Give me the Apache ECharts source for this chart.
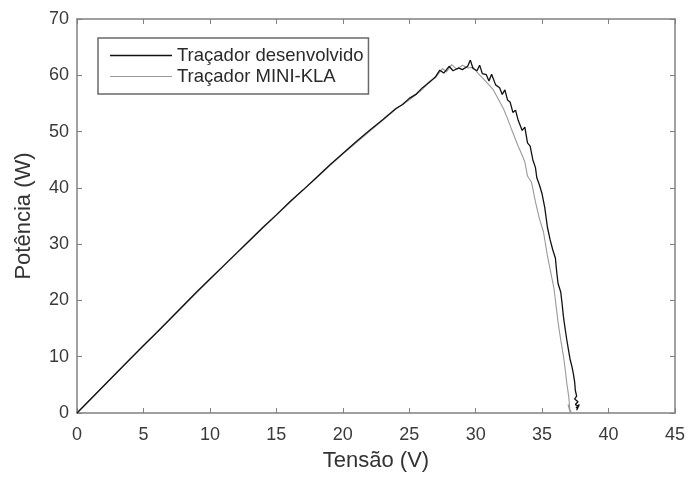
<!DOCTYPE html>
<html><head><meta charset="utf-8">
<script src="https://cdn.jsdelivr.net/npm/echarts@6/dist/echarts.min.js"></script>
<style>html,body{margin:0;padding:0;background:#fff}#c{width:689px;height:479px}</style>
</head><body><div id="c"></div>
<script>
const xTicks = [0,5,10,15,20,25,30,35,40,45];
const yTicks = [0,10,20,30,40,50,60,70];
const seriesNames = ['Traçador desenvolvido','Traçador MINI-KLA'];
const blackV = [0,1,2,3,4,5,6,7,8,9,10,11,12,13,14,15,16,17,18,19,20,21,22,23,24,24.5,25,25.5,26,26.5,27,27.3,27.6,28,28.3,28.7,29,29.4,29.6,29.8,30.1,30.3,30.5,30.8,31.0,31.2,31.5,31.8,32.0,32.2,32.4,32.6,32.8,33.0,33.2,33.5,33.7,33.9,34.1,34.3,34.5,34.6,34.8,35.0,35.2,35.4,35.6,35.8,36.0,36.1,36.2,36.4,36.5,36.6,36.7,36.85,37.0,37.1,37.25,37.35,37.45,37.5,37.6,37.45,37.7,37.5,37.75,37.55,37.8,37.6];
const blackP = [0,2.4,4.8,7.2,9.6,12.0,14.3,16.7,19.1,21.5,23.8,26.1,28.4,30.7,33.0,35.2,37.5,39.6,41.8,44.0,46.1,48.2,50.2,52.1,54.1,54.8,55.9,56.6,57.8,58.7,59.8,60.9,60.4,61.6,60.8,61.3,61.0,61.6,62.7,61.2,60.8,61.8,60.3,60.1,59.0,60.2,58.3,57.8,56.6,57.4,55.6,55.2,53.4,53.8,52.0,50.2,50.8,48.0,47.4,45.0,43.6,41.8,40.5,38.9,36.5,33.0,30.8,29.0,27.5,25.0,23.0,21.5,19.5,17.2,15.5,13.1,11.0,9.6,8.2,7.0,5.5,4.0,3.0,2.5,2.0,1.5,1.2,0.9,1.5,0.5];
const grayV = [0,1,2,3,4,5,6,7,8,9,10,11,12,13,14,15,16,17,18,19,20,21,22,23,24,25,26,26.5,27,27.5,27.8,28.2,28.6,29.0,29.4,29.8,30.2,30.6,31.0,31.3,31.7,32.1,32.4,32.7,33.0,33.2,33.5,33.7,33.9,34.2,34.5,34.8,35.1,35.4,35.7,35.9,36.2,36.4,36.6,36.75,36.85,37.0,37.1,36.95,37.2];
const grayP = [0,2.4,4.8,7.2,9.6,11.9,14.3,16.6,19.0,21.4,23.7,26.0,28.3,30.6,32.9,35.1,37.4,39.6,41.7,43.9,46.0,48.0,50.0,52.0,54.0,55.6,57.5,58.9,59.6,61.2,60.6,61.9,61.0,61.8,61.3,61.4,60.3,59.3,58.3,57.5,55.8,54.0,52.3,50.4,48.6,47.4,45.8,44.6,42.1,41.0,37.5,34.5,32.2,27.9,24.4,22.0,16.1,13.0,10.2,7.5,5.4,3.0,0.2,1.5,0.0];

const pair = (a,b)=>a.map((v,i)=>[v,b[i]]);
const axisCol = '#808080';
const txtCol = '#3a3a3a';
const font = 'Liberation Sans';
const chart = echarts.init(document.getElementById('c'), null, {renderer:'canvas'});
const baseX = {type:'value', min:0, max:45, interval:5,
  axisLine:{show:true, onZero:false, lineStyle:{color:axisCol, width:1.5}},
  axisTick:{show:true, inside:true, length:5, lineStyle:{color:axisCol}},
  splitLine:{show:false}};
const baseY = {type:'value', min:0, max:70, interval:10,
  axisLine:{show:true, onZero:false, lineStyle:{color:axisCol, width:1.5}},
  axisTick:{show:true, inside:true, length:5, lineStyle:{color:axisCol}},
  splitLine:{show:false}};
chart.setOption({
  animation:false,
  backgroundColor:'#fff',
  grid:{left:77, right:14, top:19, bottom:66, containLabel:false},
  legend:{
    left:98, top:38, orient:'vertical', itemGap:2, itemWidth:62, itemHeight:14,
    padding:[8,5,8,12], borderColor:'#6a6a6a', borderWidth:1.5,
    textStyle:{fontFamily:font, fontSize:18.5, lineHeight:18, color:'#2a2a2a'},
    data:[
      {name:seriesNames[0], icon:'path://M0,0L62,0L62,1.4L0,1.4Z'},
      {name:seriesNames[1], icon:'path://M0,0L62,0L62,1.1L0,1.1Z'}
    ]
  },
  xAxis:[
    Object.assign({}, baseX, {position:'bottom',
      axisLabel:{show:true, color:txtCol, fontFamily:font, fontSize:18, margin:13},
      name:'Tensão (V)', nameLocation:'middle', nameGap:37,
      nameTextStyle:{fontFamily:font, fontSize:22, color:'#333'}}),
    Object.assign({}, baseX, {position:'top', axisLabel:{show:false}})
  ],
  yAxis:[
    Object.assign({}, baseY, {position:'left',
      axisLabel:{show:true, color:txtCol, fontFamily:font, fontSize:18, margin:8},
      name:'Potência (W)', nameLocation:'middle', nameGap:42,
      nameTextStyle:{fontFamily:font, fontSize:22, color:'#333'}}),
    Object.assign({}, baseY, {position:'right', axisLabel:{show:false}})
  ],
  series:[
    {name:seriesNames[0], type:'line', data:pair(blackV,blackP), symbol:'none', showSymbol:false,
     lineStyle:{color:'#111', width:1.3}, itemStyle:{color:'#111'}, z:3},
    {name:seriesNames[1], type:'line', data:pair(grayV,grayP), symbol:'none', showSymbol:false,
     lineStyle:{color:'#9a9a9a', width:1.1}, itemStyle:{color:'#9a9a9a'}, z:2}
  ]
});
</script></body></html>
